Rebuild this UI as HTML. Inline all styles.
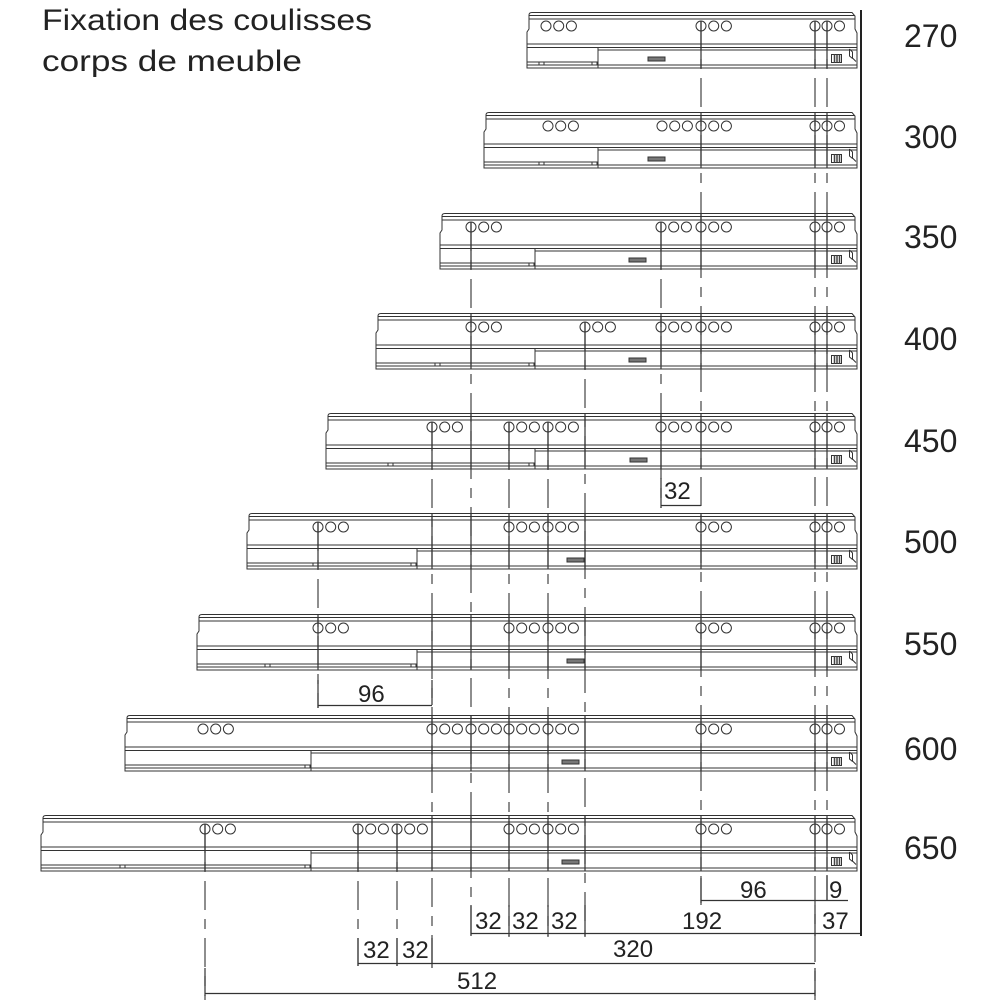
<!DOCTYPE html>
<html><head><meta charset="utf-8"><style>html,body{margin:0;padding:0;background:#fff;}svg{display:block;}</style></head>
<body>
<svg width="1000" height="1000" viewBox="0 0 1000 1000" xmlns="http://www.w3.org/2000/svg">
<defs>
<g id="c3" fill="none" stroke="#333" stroke-width="1"><circle cx="0" cy="14" r="5"/><circle cx="12.7" cy="14" r="5"/><circle cx="25.4" cy="14" r="5"/></g>
<g id="re" fill="none" stroke="#333" stroke-width="1">
<circle cx="815" cy="14" r="5"/><circle cx="827" cy="14" r="5"/><circle cx="839.5" cy="14" r="5"/>
<rect x="831.5" y="42.5" width="10" height="8" fill="#fff"/>
<path d="M834.5,42.5 V50.5 M837,42.5 V50.5 M839.5,42.5 V50.5" stroke="#444" stroke-width="1.5"/>
<path d="M849.5,37 L852.5,40 V46 L856,49.5 M849.5,37 V44 L852.5,46.5"/>
</g>
</defs>
<rect width="1000" height="1000" fill="#fff"/>

<!-- title -->
<text x="42" y="30" font-family="Liberation Sans, sans-serif" font-size="30" fill="#222" textLength="330" lengthAdjust="spacingAndGlyphs">Fixation des coulisses</text>
<text x="42" y="71" font-family="Liberation Sans, sans-serif" font-size="30" fill="#222" textLength="260" lengthAdjust="spacingAndGlyphs">corps de meuble</text>

<!-- size labels -->
<g font-family="Liberation Sans, sans-serif" font-size="32" fill="#222">
<text x="904" y="47">270</text>
<text x="904" y="148">300</text>
<text x="904" y="248">350</text>
<text x="904" y="350">400</text>
<text x="904" y="452">450</text>
<text x="904" y="553">500</text>
<text x="904" y="655">550</text>
<text x="904" y="760">600</text>
<text x="904" y="859">650</text>
</g>

<!-- dashed centre lines -->
<g stroke="#444" stroke-width="1.2" stroke-dasharray="29 9 10 9" fill="none">
<path d="M701,21 V905"/>
<path d="M815,21 V1000"/>
<path d="M827,21 V900"/>
<path d="M471,222 V937"/>
<path d="M661,222 V508"/>
<path d="M585,322 V937"/>
<path d="M432,422 V968"/>
<path d="M509,422 V937"/>
<path d="M548,422 V937"/>
<path d="M318,522 V708"/>
<path d="M205,824 V1000"/>
<path d="M358,824 V966"/>
<path d="M397,824 V966"/>
</g>

<!-- solid segments of centre lines inside slides and near dimensions -->
<g stroke="#333" stroke-width="1.2" fill="none">
<path d="M701,21 V68 M815,21 V68 M827,21 V68"/>
<path d="M701,112 V168 M815,112 V168 M827,112 V168"/>
<path d="M701,213 V269 M815,213 V269 M827,213 V269 M471,222 V269 M661,222 V269"/>
<path d="M701,313 V369 M815,313 V369 M827,313 V369 M471,313 V369 M661,313 V369 M585,322 V369"/>
<path d="M701,413 V469 M815,413 V469 M827,413 V469 M471,413 V469 M661,413 V469 M585,413 V469 M432,422 V469 M509,422 V469 M548,422 V469"/>
<path d="M701,513 V569 M815,513 V569 M827,513 V569 M471,513 V569 M585,513 V569 M432,513 V569 M509,513 V569 M548,513 V569 M318,522 V569"/>
<path d="M701,614 V670 M815,614 V670 M827,614 V670 M471,614 V670 M585,614 V670 M432,614 V670 M509,614 V670 M548,614 V670 M318,614 V670"/>
<path d="M701,715 V771 M815,715 V771 M827,715 V771 M471,715 V771 M585,715 V771 M432,715 V771 M509,715 V771 M548,715 V771"/>
<path d="M701,815 V871 M815,815 V871 M827,815 V871 M471,815 V871 M585,815 V871 M432,815 V871 M509,815 V871 M548,815 V871 M205,824 V871 M358,824 V871 M397,824 V871"/>
<!-- dimension extension ticks -->
<path d="M661,478 V508 M318,680 V708 M432,680 V705"/>
<path d="M701,878 V903 M827,875 V900"/>
<path d="M471,905 V936 M509,905 V936 M548,905 V936 M585,905 V936 M815,905 V936"/>
<path d="M358,938 V966 M397,938 V966 M432,938 V968"/>
<path d="M205,968 V996 M815,968 V996"/>
</g>

<!-- dimension lines -->
<g stroke="#333" stroke-width="1.2" fill="none">
<path d="M661,505.5 H701"/>
<path d="M318,705.5 H432"/>
<path d="M701,900.5 H848"/>
<path d="M471,933.5 H861"/>
<path d="M358,963.5 H815"/>
<path d="M205,993.5 H815"/>
</g>

<!-- right vertical line -->
<path d="M861,10 V936" stroke="#222" stroke-width="2" fill="none"/>

<!-- dimension texts -->
<g font-family="Liberation Sans, sans-serif" font-size="24" fill="#222">
<text x="664" y="499">32</text>
<text x="358" y="702">96</text>
<text x="740" y="898">96</text>
<text x="829" y="898">9</text>
<text x="475" y="929">32</text>
<text x="512" y="929">32</text>
<text x="551" y="929">32</text>
<text x="682" y="929">192</text>
<text x="822" y="929">37</text>
<text x="613" y="957">320</text>
<text x="363" y="958">32</text>
<text x="402" y="958">32</text>
<text x="457" y="989">512</text>
</g>

<!-- slides -->
<g fill="none" stroke="#333" stroke-width="1">

<g transform="translate(0,12)">
<path d="M532,0.5 H852 L855,4 V17 L857,21 V56 H527 V20 L529,17 V3 Q529,0.5 532,0.5 Z"/>
<path d="M529,3.5 H854.5 M529,7 H855 M527,32 H857 M527,35.5 H857 M598,38 H857 M598,35.5 V56 M527,50 H598 M527,53 H857"/>
<rect x="539" y="50" width="5" height="3"/><rect x="592" y="50" width="5" height="3"/>
<rect x="648" y="45" width="17" height="4" fill="#777"/>
<use href="#c3" x="546"/><use href="#c3" x="701"/><use href="#re"/>
</g>

<g transform="translate(0,112)">
<path d="M489,0.5 H852 L855,4 V17 L857,21 V56 H484 V20 L486,17 V3 Q486,0.5 489,0.5 Z"/>
<path d="M486,3.5 H854.5 M486,7 H855 M484,32 H857 M484,35.5 H857 M598,38 H857 M598,35.5 V56 M484,50 H598 M484,53 H857"/>
<rect x="539" y="50" width="5" height="3"/><rect x="592" y="50" width="5" height="3"/>
<rect x="648" y="45" width="17" height="4" fill="#777"/>
<use href="#c3" x="548"/><use href="#c3" x="662"/><use href="#c3" x="701"/><use href="#re"/>
</g>

<g transform="translate(0,213)">
<path d="M445,0.5 H852 L855,4 V17 L857,21 V56 H440 V20 L442,17 V3 Q442,0.5 445,0.5 Z"/>
<path d="M442,3.5 H854.5 M442,7 H855 M440,32 H857 M440,35.5 H857 M535,38 H857 M535,35.5 V56 M440,50 H535 M440,53 H857"/>
<rect x="529" y="50" width="5" height="3"/>
<rect x="629" y="45" width="17" height="4" fill="#777"/>
<use href="#c3" x="471"/><use href="#c3" x="661"/><use href="#c3" x="701"/><use href="#re"/>
</g>

<g transform="translate(0,313)">
<path d="M381,0.5 H852 L855,4 V17 L857,21 V56 H376 V20 L378,17 V3 Q378,0.5 381,0.5 Z"/>
<path d="M378,3.5 H854.5 M378,7 H855 M376,32 H857 M376,35.5 H857 M535,38 H857 M535,35.5 V56 M376,50 H535 M376,53 H857"/>
<rect x="435" y="50" width="5" height="3"/><rect x="529" y="50" width="5" height="3"/>
<rect x="629" y="45" width="17" height="4" fill="#777"/>
<use href="#c3" x="471"/><use href="#c3" x="585"/><use href="#c3" x="661"/><use href="#c3" x="701"/><use href="#re"/>
</g>

<g transform="translate(0,413)">
<path d="M331,0.5 H852 L855,4 V17 L857,21 V56 H326 V20 L328,17 V3 Q328,0.5 331,0.5 Z"/>
<path d="M328,3.5 H854.5 M328,7 H855 M326,32 H857 M326,35.5 H857 M535,38 H857 M535,35.5 V56 M326,50 H535 M326,53 H857"/>
<rect x="388" y="50" width="5" height="3"/><rect x="529" y="50" width="5" height="3"/>
<rect x="630" y="45" width="17" height="4" fill="#777"/>
<use href="#c3" x="432"/><use href="#c3" x="509"/><use href="#c3" x="548"/><use href="#c3" x="661"/><use href="#c3" x="701"/><use href="#re"/>
</g>

<g transform="translate(0,513)">
<path d="M252,0.5 H852 L855,4 V17 L857,21 V56 H247 V20 L249,17 V3 Q249,0.5 252,0.5 Z"/>
<path d="M249,3.5 H854.5 M249,7 H855 M247,32 H857 M247,35.5 H857 M417,38 H857 M417,35.5 V56 M247,50 H417 M247,53 H857"/>
<rect x="313" y="50" width="5" height="3"/><rect x="411" y="50" width="5" height="3"/>
<rect x="567" y="45" width="17" height="4" fill="#777"/>
<use href="#c3" x="318"/><use href="#c3" x="509"/><use href="#c3" x="548"/><use href="#c3" x="701"/><use href="#re"/>
</g>

<g transform="translate(0,614)">
<path d="M202,0.5 H852 L855,4 V17 L857,21 V56 H197 V20 L199,17 V3 Q199,0.5 202,0.5 Z"/>
<path d="M199,3.5 H854.5 M199,7 H855 M197,32 H857 M197,35.5 H857 M417,38 H857 M417,35.5 V56 M197,50 H417 M197,53 H857"/>
<rect x="265" y="50" width="5" height="3"/><rect x="411" y="50" width="5" height="3"/>
<rect x="567" y="45" width="17" height="4" fill="#777"/>
<use href="#c3" x="318"/><use href="#c3" x="509"/><use href="#c3" x="548"/><use href="#c3" x="701"/><use href="#re"/>
</g>

<g transform="translate(0,715)">
<path d="M130,0.5 H852 L855,4 V17 L857,21 V56 H125 V20 L127,17 V3 Q127,0.5 130,0.5 Z"/>
<path d="M127,3.5 H854.5 M127,7 H855 M125,32 H857 M125,35.5 H857 M311,38 H857 M311,35.5 V56 M125,50 H311 M125,53 H857"/>
<rect x="305" y="50" width="5" height="3"/>
<rect x="562" y="45" width="17" height="4" fill="#777"/>
<use href="#c3" x="203"/><use href="#c3" x="432"/><use href="#c3" x="471"/><use href="#c3" x="509"/><use href="#c3" x="548"/><use href="#c3" x="701"/><use href="#re"/>
</g>

<g transform="translate(0,815)">
<path d="M46,0.5 H852 L855,4 V17 L857,21 V56 H41 V20 L43,17 V3 Q43,0.5 46,0.5 Z"/>
<path d="M43,3.5 H854.5 M43,7 H855 M41,32 H857 M41,35.5 H857 M311,38 H857 M311,35.5 V56 M41,50 H311 M41,53 H857"/>
<rect x="120" y="50" width="5" height="3"/><rect x="305" y="50" width="5" height="3"/>
<rect x="562" y="45" width="17" height="4" fill="#777"/>
<use href="#c3" x="205"/><use href="#c3" x="358"/><use href="#c3" x="397"/><use href="#c3" x="509"/><use href="#c3" x="548"/><use href="#c3" x="701"/><use href="#re"/>
</g>

</g>
</svg>
</body></html>
